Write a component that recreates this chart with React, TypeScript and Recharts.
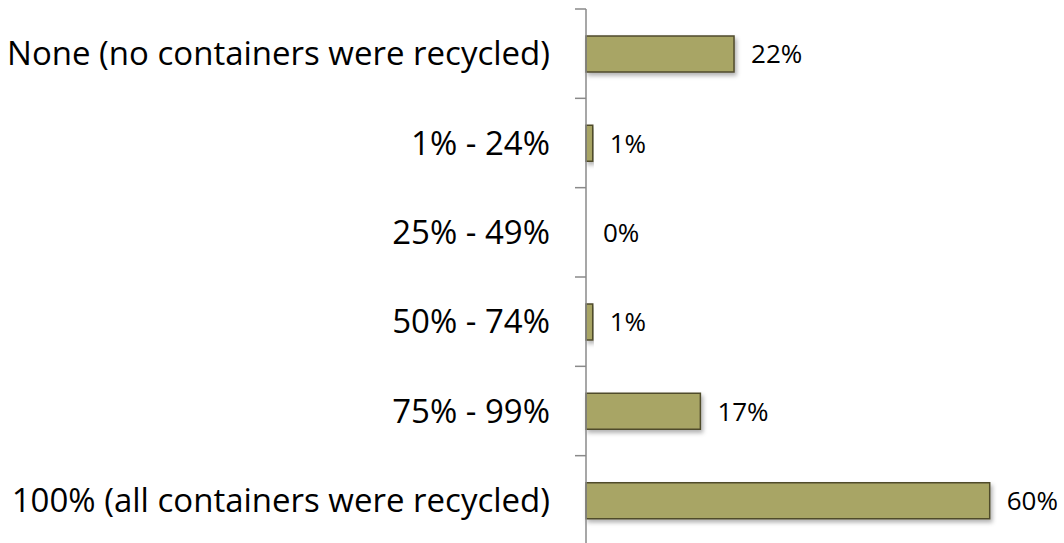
import { BarChart, Bar, XAxis, YAxis, LabelList, Rectangle } from "recharts";

const categories = [
  "None (no containers were recycled)",
  "1% - 24%",
  "25% - 49%",
  "50% - 74%",
  "75% - 99%",
  "100% (all containers were recycled)",
];
const shares = [22, 1, 0, 1, 17, 60];

const data = categories.map((name, i) => ({ name, value: shares[i] }));

const FONT = "'Open Sans', sans-serif";
const AXIS_X = 586;
const AXIS_COLOR = "#8a8a8a";

// category tick: label at the band centre, tick mark at the band edges
const CategoryTick = (props: any) => {
  const { x, y, payload, index, visibleTicksCount } = props;
  const half = payload?.offset ?? 0;
  const last = index === (visibleTicksCount ?? categories.length) - 1;
  return (
    <g>
      <line x1={AXIS_X - 11} x2={AXIS_X} y1={y - half} y2={y - half} stroke={AXIS_COLOR} strokeWidth={1.5} />
      {last && (
        <line x1={AXIS_X - 11} x2={AXIS_X} y1={y + half} y2={y + half} stroke={AXIS_COLOR} strokeWidth={1.5} />
      )}
      <text x={x} y={y} dy="0.35em" textAnchor="end" fill="#000" fontSize={33} fontFamily={FONT}>
        {payload.value}
      </text>
    </g>
  );
};

const BarShape = (props: any) => {
  if (!props.value) return null;
  return <Rectangle {...props} />;
};

export default function App() {
  return (
    <div
      style={{
        position: "fixed",
        left: 0,
        top: 0,
        width: 1064,
        height: 543,
        overflow: "hidden",
        background: "#fff",
      }}
    >
      <BarChart
        width={1064}
        height={553}
        data={data}
        layout="vertical"
        margin={{ top: 9, right: 7, bottom: 8, left: 0 }}
        barSize={36}
      >
        <defs>
          <filter id="barShadow" x="-5%" y="-20%" width="115%" height="160%">
            <feDropShadow dx="2" dy="3" stdDeviation="2" floodColor="#000" floodOpacity="0.3" />
          </filter>
        </defs>
        <XAxis type="number" domain={[0, 70]} hide />
        <YAxis
          type="category"
          dataKey="name"
          width={AXIS_X}
          axisLine={{ stroke: AXIS_COLOR, strokeWidth: 1.5 }}
          tickLine={false}
          tickSize={11}
          tickMargin={25}
          interval={0}
          tick={<CategoryTick />}
        />
        <Bar
          dataKey="value"
          fill="#a8a565"
          stroke="#4f4b2c"
          strokeWidth={1.5}
          filter="url(#barShadow)"
          minPointSize={0.01}
          shape={<BarShape />}
          isAnimationActive={false}
        >
          <LabelList
            dataKey="value"
            position="right"
            offset={17}
            formatter={(v: number) => `${v}%`}
            style={{ fill: "#000", fontSize: 26, fontFamily: FONT }}
          />
        </Bar>
      </BarChart>
    </div>
  );
}
